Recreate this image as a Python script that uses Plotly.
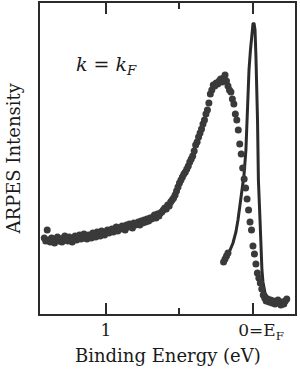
import plotly.graph_objects as go

# Broad spectrum (dots): binding energy grid 1.42 eV -> -0.23 eV in 10 meV steps
be_start = 1.42
be_step = 0.01
intensity_broad = [
    # 1.42 .. 1.21
    76, 73, 84, 74, 72, 76, 74, 71, 75, 77, 73, 75, 72, 76, 78, 74, 73, 77, 75, 72, 76, 78,
    # 1.20 .. 1.00
    74, 77, 79, 75, 76, 80, 77, 75, 79, 78, 76, 81, 79, 77, 82, 80, 78, 83, 80, 79, 82,
    # 0.99 .. 0.80
    84, 81, 83, 85, 82, 84, 87, 83, 86, 85, 88, 86, 84, 89, 87, 90, 88, 86, 91, 89,
    # 0.79 .. 0.63
    90, 92, 89, 93, 91, 94, 92, 95, 93, 96, 95, 97, 99, 96, 100, 98, 101,
    # 0.62 .. 0.50
    102, 104, 106, 105, 109, 108, 112, 114, 116, 119, 123, 127, 131,
    # 0.49 .. 0.30
    134, 137, 140, 142, 145, 148, 152, 155, 158, 163, 169, 172, 177, 181, 185, 190, 194, 200, 204, 211,
    # 0.29 .. 0.19
    220, 224, 229, 228, 231, 230, 233, 235, 232, 236, 239,
    # 0.18 .. 0.07
    233, 228, 224, 222, 215, 210, 200, 194, 184, 170, 160, 146,
    # 0.06 .. -0.07
    135, 126, 115, 104, 92, 84, 68, 60, 50, 41, 36, 31, 25, 19,
    # -0.08 .. -0.23
    16, 13, 15, 12, 14, 11, 13, 10, 12, 14, 11, 9, 12, 10, 13, 15,
]
be_broad = [round(be_start - be_step * i, 2) for i in range(len(intensity_broad))]

# Second measurement (dots at start of the narrow peak)
be_narrow_dots = [0.20, 0.19, 0.18, 0.17]
intensity_narrow_dots = [52, 55, 58, 61]

# Narrow quasiparticle peak (solid line)
be_line = [0.204, 0.170, 0.136, 0.116, 0.102, 0.088, 0.075, 0.061, 0.048, 0.041, 0.034,
           0.027, 0.017, 0.007, 0.0, -0.007, -0.014, -0.020, -0.027, -0.031, -0.034,
           -0.037, -0.048, -0.054, -0.061, -0.068, -0.082, -0.102]
intensity_line = [52, 59, 71, 82, 94, 109, 124, 139, 164, 194, 219,
                  244, 264, 282, 290, 291, 284, 259, 229, 194, 164,
                  134, 94, 69, 44, 32, 21, 16]

tick_vals = [1, 0]
tick_text = ["1", "\u00a0\u00a0\u00a00=E<sub>F</sub>"]
minor_tick_vals = [0.5]

x_range = [1.449, -0.286]
y_range = [0, 311]

serif = "DejaVu Serif"
ink = "#2b2b2b"
dot = "#3a3a3a"
text_color = "#1a1a1a"

fig = go.Figure()
fig.add_trace(go.Scatter(
    x=be_line, y=intensity_line, mode="lines",
    line=dict(color=ink, width=3), showlegend=False, hoverinfo="skip"))
fig.add_trace(go.Scatter(
    x=be_broad, y=intensity_broad, mode="markers",
    marker=dict(color=dot, size=7), showlegend=False))
fig.add_trace(go.Scatter(
    x=be_narrow_dots, y=intensity_narrow_dots, mode="markers",
    marker=dict(color=dot, size=7), showlegend=False))
fig.add_trace(go.Scatter(
    x=[x_range[0]], y=[y_range[0]], mode="markers", xaxis="x2",
    marker=dict(opacity=0), showlegend=False, hoverinfo="skip"))

fig.add_annotation(
    text="<i>k</i> = <i>k</i><sub><i>F</i></sub>",
    x=0.26, y=0.80, xref="paper", yref="paper", xanchor="center", yanchor="middle",
    showarrow=False, font=dict(family=serif, size=19, color=text_color))
fig.add_annotation(
    text="Binding Energy (eV)",
    x=0.5, y=-0.135, xref="paper", yref="paper", xanchor="center", yanchor="middle",
    showarrow=False, font=dict(family=serif, size=18, color=text_color))
fig.add_annotation(
    text="ARPES Intensity", textangle=-90,
    x=-0.102, y=0.5, xref="paper", yref="paper", xanchor="center", yanchor="middle",
    showarrow=False, font=dict(family=serif, size=18, color=text_color))

axis_common = dict(
    range=x_range, showgrid=False, zeroline=False,
    ticks="inside", ticklen=11, tickwidth=1.5, tickcolor=ink,
    tickvals=tick_vals,
    minor=dict(tickvals=minor_tick_vals, ticks="inside", ticklen=6,
               tickwidth=1.5, tickcolor=ink),
    automargin=False,
)

fig.update_layout(
    width=300, height=371,
    margin=dict(l=40, r=5, t=3, b=57),
    paper_bgcolor="white", plot_bgcolor="white",
    font=dict(family=serif, size=17, color=text_color),
    xaxis=dict(
        **axis_common,
        showline=True, linecolor=ink, linewidth=1.5, mirror=True,
        ticktext=tick_text,
        tickfont=dict(family=serif, size=17, color=text_color),
    ),
    xaxis2=dict(
        **axis_common,
        overlaying="x", side="top", showline=False, showticklabels=False,
    ),
    yaxis=dict(
        range=y_range, showgrid=False, zeroline=False,
        showline=True, linecolor=ink, linewidth=1.5, mirror=True,
        ticks="", showticklabels=False, automargin=False,
    ),
)

fig.write_html("out.html", config={"displayModeBar": False},
               post_script="document.body.style.margin='0';")
